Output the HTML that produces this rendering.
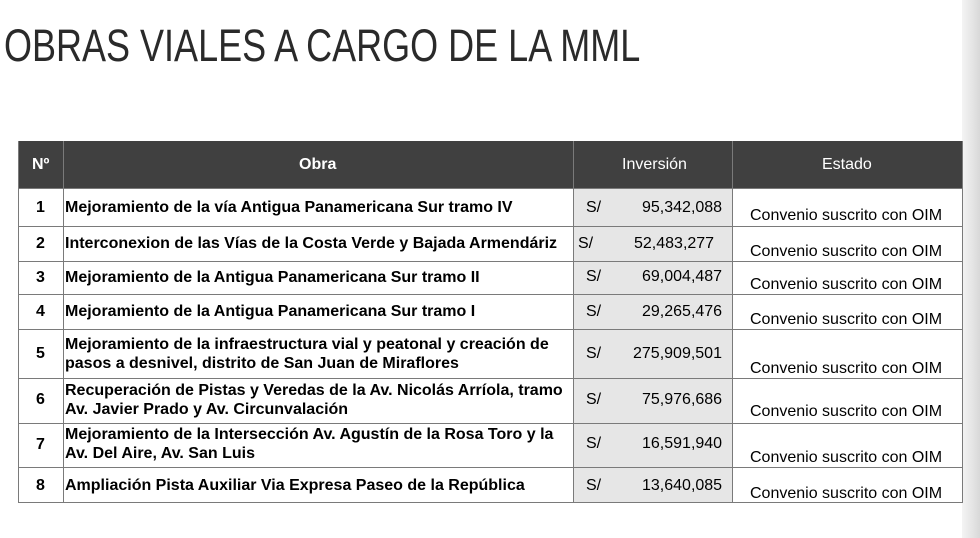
<!DOCTYPE html>
<html><head><meta charset="utf-8"><style>
body{margin:0;width:980px;height:538px;background:#fff;position:relative;overflow:hidden;font-family:"Liberation Sans",sans-serif;}
.t{position:absolute;white-space:nowrap;}
.strip{position:absolute;left:962px;top:0;width:18px;height:538px;background:linear-gradient(to right,#f4f4f4,#e4e4e4 60%,#d8d8d8);}
.hl{position:absolute;left:18px;width:944px;height:1px;background:#7a7a7a;}
.vl{position:absolute;top:141px;width:1px;height:362px;background:#7a7a7a;}
.b{font-weight:bold;font-size:16px;color:#000;}
.n{font-size:16px;color:#000;}
</style></head><body>
<div class="t" style="left:4px;top:20px;font-size:45px;color:#2a2a2a;transform:scaleX(0.8);transform-origin:0 0">OBRAS VIALES A CARGO DE LA MML</div>
<div class="strip"></div>
<div style="position:absolute;left:18px;top:141px;width:944px;height:47px;background:#404040"></div>
<div style="position:absolute;left:573px;top:188px;width:159px;height:315px;background:#e6e6e6"></div>
<div class="t b" style="left:32px;top:156px;color:#fff">Nº</div>
<div class="t b" style="left:299px;top:156px;color:#fff">Obra</div>
<div class="t n" style="left:622px;top:156px;color:#fff">Inversión</div>
<div class="t n" style="left:822px;top:156px;color:#fff">Estado</div>
<div class="hl" style="top:188px"></div><div class="hl" style="top:226px"></div><div class="hl" style="top:261px"></div><div class="hl" style="top:294px"></div><div class="hl" style="top:329px"></div><div class="hl" style="top:378px"></div><div class="hl" style="top:423px"></div><div class="hl" style="top:467px"></div><div class="hl" style="top:502px"></div>
<div class="vl" style="left:18px"></div><div class="vl" style="left:63px"></div><div class="vl" style="left:573px"></div><div class="vl" style="left:732px"></div><div class="vl" style="left:962px"></div>

<div class="t b" style="left:36px;top:199px">1</div>
<div class="t b" style="left:65px;top:199px">Mejoramiento de la vía Antigua Panamericana Sur tramo IV</div>
<div class="t n" style="left:586px;top:199px">S/</div><div class="t n" style="left:642px;top:199px">95,342,088</div>
<div class="t n" style="left:750px;top:207px">Convenio suscrito con OIM</div>

<div class="t b" style="left:36px;top:235px">2</div>
<div class="t b" style="left:65px;top:235px">Interconexion de las Vías de la Costa Verde y Bajada Armendáriz</div>
<div class="t n" style="left:578px;top:235px">S/</div><div class="t n" style="left:634px;top:235px">52,483,277</div>
<div class="t n" style="left:750px;top:243px">Convenio suscrito con OIM</div>

<div class="t b" style="left:36px;top:269px">3</div>
<div class="t b" style="left:65px;top:269px">Mejoramiento de la Antigua Panamericana Sur tramo II</div>
<div class="t n" style="left:586px;top:268px">S/</div><div class="t n" style="left:642px;top:268px">69,004,487</div>
<div class="t n" style="left:750px;top:276px">Convenio suscrito con OIM</div>

<div class="t b" style="left:36px;top:303px">4</div>
<div class="t b" style="left:65px;top:303px">Mejoramiento de la Antigua Panamericana Sur tramo I</div>
<div class="t n" style="left:586px;top:303px">S/</div><div class="t n" style="left:642px;top:303px">29,265,476</div>
<div class="t n" style="left:750px;top:311px">Convenio suscrito con OIM</div>

<div class="t b" style="left:36px;top:345px">5</div>
<div class="t b" style="left:65px;top:335px;line-height:19px">Mejoramiento de la infraestructura vial y peatonal y creación de<br>pasos a desnivel, distrito de San Juan de Miraflores</div>
<div class="t n" style="left:586px;top:345px">S/</div><div class="t n" style="left:633px;top:345px">275,909,501</div>
<div class="t n" style="left:750px;top:360px">Convenio suscrito con OIM</div>

<div class="t b" style="left:36px;top:391px">6</div>
<div class="t b" style="left:65px;top:381px;line-height:19px">Recuperación de Pistas y Veredas de la Av. Nicolás Arríola, tramo<br>Av. Javier Prado y Av. Circunvalación</div>
<div class="t n" style="left:586px;top:391px">S/</div><div class="t n" style="left:642px;top:391px">75,976,686</div>
<div class="t n" style="left:750px;top:403px">Convenio suscrito con OIM</div>

<div class="t b" style="left:36px;top:436px">7</div>
<div class="t b" style="left:65px;top:425px;line-height:19px">Mejoramiento de la Intersección Av. Agustín de la Rosa Toro y la<br>Av. Del Aire, Av. San Luis</div>
<div class="t n" style="left:586px;top:435px">S/</div><div class="t n" style="left:642px;top:435px">16,591,940</div>
<div class="t n" style="left:750px;top:449px">Convenio suscrito con OIM</div>

<div class="t b" style="left:36px;top:477px">8</div>
<div class="t b" style="left:65px;top:477px">Ampliación Pista Auxiliar Via Expresa Paseo de la República</div>
<div class="t n" style="left:586px;top:477px">S/</div><div class="t n" style="left:642px;top:477px">13,640,085</div>
<div class="t n" style="left:750px;top:485px">Convenio suscrito con OIM</div>
</body></html>
